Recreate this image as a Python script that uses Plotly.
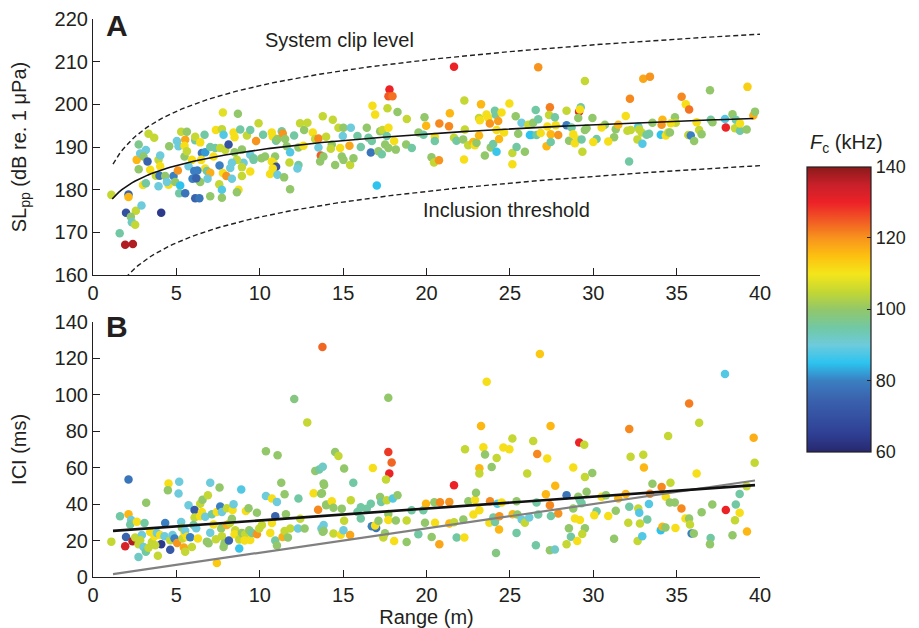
import numpy as np
import plotly.graph_objects as go

# ---------------- Panel A: source level vs range ----------------
a_range = [
    1.10, 1.60, 1.93, 2.39, 1.98, 2.13, 2.13, 2.57, 2.27, 2.33, 2.53, 2.91, 2.74, 2.62, 2.83, 3.17, 3.03, 2.74, 3.33, 3.67,
    3.00, 3.17, 3.43, 3.27, 3.93, 4.03, 4.03, 3.77, 3.99, 4.09, 3.93, 4.33, 4.57, 4.83, 4.53, 4.43, 4.93, 5.09, 5.03, 5.13,
    5.23, 5.17, 5.53, 5.29, 5.53, 5.63, 5.49, 5.49, 5.63, 5.93, 5.73, 6.07, 5.97, 6.13, 6.23, 6.13, 6.13, 6.43, 6.53, 6.73,
    6.49, 6.73, 6.83, 7.03, 6.87, 6.43, 6.69, 7.03, 7.33, 7.23, 7.37, 7.73, 7.57, 7.03, 7.73, 7.73, 7.83, 7.79, 7.63, 7.93,
    7.59, 7.79, 8.00, 8.13, 8.43, 8.49, 8.69, 8.83, 9.23, 9.43, 9.93, 9.78, 9.63, 9.43, 8.93, 8.73, 8.63, 9.03, 8.63, 8.33,
    8.23, 8.93, 8.33, 8.49, 8.93, 9.43, 9.63, 10.2, 10.1, 6.26, 6.19, 6.38,
    10.32, 10.72, 10.78, 10.98, 11.06, 11.32, 11.38, 10.92, 10.72, 10.86, 10.98, 10.78, 10.62, 11.06, 11.46, 11.82, 11.52, 11.62, 11.82, 11.78,
    12.06, 12.32, 12.32, 12.26, 12.42, 12.66, 12.86, 12.62, 13.18, 13.32, 13.52, 13.52, 13.66, 13.62, 13.82, 13.78, 13.98, 14.32, 14.38, 14.26,
    14.82, 14.98, 14.72, 15.02, 14.92, 15.02, 14.52, 15.38, 15.46, 15.42, 15.62, 15.86, 16.06, 16.42, 16.52, 16.72, 16.66, 16.76, 16.92, 17.12,
    17.32, 17.02, 17.22, 17.36, 17.62, 17.72, 17.66, 17.78, 17.72, 17.96, 17.52, 17.72, 18.06, 18.16, 18.26, 18.82, 18.78, 19.12, 19.52, 19.82,
    19.88, 19.98,
    21.65, 26.70, 29.50, 22.27, 23.27, 24.97, 21.40, 20.77, 21.35, 20.50, 20.50, 20.30, 20.45, 20.75, 21.65, 21.80, 22.25, 22.20, 22.30, 22.50,
    22.80, 22.90, 23.00, 23.15, 23.20, 23.15, 23.50, 23.60, 23.70, 23.80, 23.85, 24.10, 24.15, 24.00, 24.20, 24.30, 24.35, 24.20, 24.50, 24.65,
    25.15, 25.15, 25.40, 25.35, 25.50, 25.70, 25.90, 26.10, 26.30, 26.40, 26.55, 26.70, 26.20, 26.60, 26.85, 27.25, 27.20, 27.45, 27.45, 27.75,
    27.90, 27.40, 27.35, 27.70, 28.40, 28.40, 28.70, 28.55, 28.80, 28.90, 29.05, 29.15, 29.25, 29.20, 29.10, 29.30, 29.35, 29.50, 29.60, 29.95,
    30.70, 30.50, 31.35, 31.25, 31.50, 30.20, 30.00, 30.90, 31.95, 32.20, 32.05, 32.25, 32.15, 32.70, 32.75, 32.90, 32.65, 32.95, 33.20, 33.35,
    33.00, 33.40, 33.55, 34.05, 34.15, 34.10, 34.35, 34.50, 34.60, 34.90, 34.95, 34.65, 35.30, 35.55, 35.75, 35.70, 35.85, 36.05, 36.20, 36.35,
    36.50, 37.00, 37.05, 37.15, 37.90, 37.95, 38.35, 38.50, 38.55, 38.80, 38.80, 39.20, 39.25, 39.60, 39.70,
]
a_sl = [
    178.8, 169.8, 167.1, 167.3, 174.6, 178.9, 178.3, 175.1, 173.7, 172.4, 171.8, 176.3, 190.6, 187.0, 188.5, 189.3, 187.8, 184.8, 193.1, 192.2,
    181.1, 181.5, 184.7, 186.6, 187.0, 188.0, 185.5, 183.3, 183.3, 174.6, 180.8, 183.2, 190.2, 183.2, 181.2, 181.8, 181.8, 184.5, 191.4, 190.2,
    181.0, 179.2, 179.2, 193.6, 191.7, 193.6, 190.3, 187.8, 189.0, 187.0, 185.5, 184.4, 182.6, 178.0, 182.6, 191.6, 192.4, 191.1, 188.6, 188.8,
    187.0, 185.0, 184.4, 184.0, 182.6, 181.8, 192.9, 190.0, 189.8, 187.8, 194.0, 194.2, 181.3, 178.5, 180.0, 178.1, 192.9, 198.1, 189.8, 189.3,
    185.7, 183.9, 183.2, 190.6, 193.4, 192.3, 197.8, 194.1, 192.7, 194.0, 195.6, 191.4, 187.0, 184.3, 183.2, 180.0, 179.4, 186.3, 187.0, 186.3,
    185.1, 185.3, 182.6, 188.8, 189.4, 188.2, 187.4, 192.9, 187.4, 184.5, 182.7, 178.0,
    187.8, 193.4, 192.5, 191.5, 191.9, 193.7, 193.2, 187.8, 186.6, 186.0, 185.4, 185.0, 183.7, 183.5, 182.9, 180.1, 191.9, 190.2, 188.8, 186.4,
    192.7, 189.9, 185.8, 185.0, 195.6, 194.0, 195.7, 190.3, 193.4, 191.9, 192.0, 189.9, 188.0, 186.6, 187.8, 197.2, 192.4, 190.6, 196.4, 189.6,
    189.8, 192.6, 194.5, 194.5, 187.8, 187.0, 185.8, 190.3, 194.5, 185.8, 187.4, 192.6, 190.0, 194.5, 192.2, 191.4, 188.7, 199.7, 197.6, 189.0,
    188.3, 181.0, 193.7, 194.0, 192.6, 194.5, 199.1, 203.5, 201.9, 201.9, 190.6, 189.8, 191.4, 189.4, 198.2, 196.6, 190.6, 189.8, 193.4, 192.9,
    197.0, 195.0,
    208.8, 208.7, 205.5, 200.9, 200.0, 200.2, 197.9, 195.5, 194.9, 192.4, 191.4, 187.6, 186.4, 186.9, 192.2, 191.5, 187.1, 191.8, 194.1, 190.4,
    191.2, 190.4, 191.0, 196.8, 196.3, 192.7, 188.0, 197.6, 196.8, 195.5, 189.9, 198.5, 197.6, 190.7, 188.9, 196.1, 191.9, 194.0, 198.1, 193.4,
    188.6, 186.0, 190.0, 197.2, 193.1, 195.7, 188.9, 195.2, 192.8, 195.7, 198.7, 196.5, 192.8, 192.8, 193.3, 194.8, 190.2, 193.0, 191.2, 195.1,
    192.8, 199.3, 197.5, 197.0, 195.1, 198.5, 194.6, 191.5, 193.0, 190.9, 191.8, 198.3, 199.3, 198.8, 196.8, 191.8, 188.9, 194.0, 194.4, 196.8,
    195.2, 194.6, 194.2, 192.3, 195.2, 191.9, 191.2, 191.3, 197.3, 201.3, 193.8, 194.0, 186.6, 194.8, 194.2, 193.4, 191.8, 190.8, 192.9, 193.1,
    206.0, 206.5, 195.7, 192.9, 196.4, 195.2, 192.7, 193.4, 193.4, 197.0, 195.7, 195.6, 201.8, 200.0, 198.8, 192.8, 192.7, 191.4, 195.8, 194.0,
    193.0, 203.3, 196.4, 195.8, 196.6, 194.6, 197.7, 194.4, 196.4, 193.8, 195.5, 194.1, 204.1, 197.4, 198.3,
]
a_fc = [
    105, 95, 137, 137, 70, 75, 116, 105, 100, 92, 105, 90, 97, 116, 90, 90, 100, 100, 105, 105,
    111, 95, 111, 75, 105, 90, 111, 105, 78, 64, 90, 100, 100, 80, 111, 90, 100, 120, 90, 90,
    85, 95, 78, 105, 118, 100, 111, 100, 105, 111, 90, 80, 80, 75, 90, 95, 105, 111, 78, 82,
    111, 111, 95, 117, 90, 100, 95, 95, 95, 111, 111, 105, 105, 100, 88, 100, 88, 108, 105, 105,
    80, 111, 120, 70, 111, 111, 100, 95, 105, 95, 105, 120, 95, 111, 105, 111, 100, 90, 105, 90,
    90, 105, 90, 100, 100, 90, 95, 95, 100, 80, 75, 78,
    100, 111, 111, 95, 100, 95, 120, 100, 111, 111, 70, 111, 111, 90, 100, 100, 100, 100, 88, 105,
    95, 100, 95, 90, 105, 100, 105, 111, 111, 105, 121, 90, 125, 100, 100, 105, 105, 100, 105, 105,
    111, 90, 105, 100, 100, 100, 100, 118, 90, 105, 100, 95, 95, 100, 95, 95, 78, 111, 111, 100,
    95, 85, 100, 105, 95, 111, 105, 130, 125, 123, 100, 100, 111, 100, 100, 105, 100, 95, 100, 95,
    100, 116,
    130, 120, 105, 105, 116, 111, 116, 121, 121, 111, 95, 100, 105, 120, 105, 95, 111, 100, 105, 105,
    116, 111, 100, 105, 111, 116, 100, 111, 111, 120, 100, 95, 95, 95, 86, 119, 116, 111, 111, 111,
    105, 111, 95, 100, 100, 90, 100, 105, 95, 100, 95, 95, 85, 95, 111, 111, 116, 116, 95, 111,
    120, 122, 105, 95, 80, 105, 95, 100, 111, 111, 111, 130, 95, 111, 100, 95, 105, 100, 100, 100,
    100, 111, 100, 100, 116, 95, 111, 111, 111, 121, 105, 105, 95, 88, 105, 105, 105, 88, 95, 95,
    118, 120, 100, 85, 116, 120, 111, 105, 100, 100, 105, 111, 121, 111, 123, 105, 80, 100, 111, 105,
    100, 100, 95, 100, 88, 130, 100, 105, 95, 95, 111, 100, 113, 117, 100,
]

# ---------------- Panel B: inter-click interval vs range ----------------
b_range = [
    1.10, 1.93, 1.98, 2.37, 2.13, 2.13, 1.62, 2.29, 2.23, 2.63, 2.53, 2.73, 3.09, 3.19, 2.93, 2.83, 3.03, 3.17, 2.73, 3.33,
    3.43, 3.53, 3.69, 3.83, 3.89, 4.09, 4.03, 3.73, 4.33, 4.29, 4.53, 4.49, 4.63, 4.63, 4.77, 4.89, 5.05, 5.17, 5.13, 5.29,
    5.33, 5.37, 5.45, 5.53, 5.49, 5.53, 5.63, 5.73, 5.83, 5.93, 6.09, 6.09, 6.03, 6.19, 6.29, 6.43, 6.57, 6.43, 6.53, 6.73,
    6.83, 6.93, 6.89, 7.03, 7.13, 7.03, 7.23, 7.43, 7.37, 7.43, 7.59, 7.63, 7.73, 7.69, 7.73, 7.89, 7.83, 8.03, 8.03, 8.15,
    8.21, 8.33, 8.37, 8.43, 8.53, 8.49, 8.77, 8.77, 8.89, 8.93, 9.13, 9.17, 9.33, 9.09, 9.43, 9.37, 9.53, 9.83, 9.83, 9.97,
    10.13, 10.37, 10.37, 10.73, 10.73, 10.63, 10.93, 10.93, 11.03, 11.07, 11.03, 11.29, 11.37, 11.49, 11.57, 11.49, 11.69, 11.83, 12.32, 12.29,
    12.43, 12.69, 12.85, 13.23, 13.33, 13.57, 13.78, 13.50, 13.70, 13.83, 13.83, 13.83, 13.73, 14.00, 12.07, 13.76,
    17.71, 14.52, 14.72, 15.06, 17.71, 17.91, 17.77, 17.57, 16.78, 13.86, 15.61, 13.68, 13.98, 14.32, 14.42, 14.92, 15.46, 15.86, 16.06, 16.42,
    16.66, 15.06, 16.06, 13.78, 14.42, 14.86, 15.02, 15.42, 16.72, 16.98, 16.92, 17.12, 17.22, 17.28, 17.62, 17.98, 18.26, 17.71, 17.71, 18.16,
    17.51, 17.41, 18.06, 18.81, 19.11, 18.81, 19.51, 19.81, 19.91, 19.97, 20.31, 20.47, 20.51, 20.77, 20.81, 21.37, 21.37, 21.65, 21.65, 21.81,
    22.21, 22.27, 22.31, 22.51, 22.81, 22.91, 22.97, 23.17, 23.17, 23.17, 23.27, 23.41, 23.51, 23.61, 23.81, 23.77, 23.91, 24.01, 24.11, 24.17,
    24.21, 24.25, 24.35, 24.37, 24.51, 24.61, 24.97, 25.15, 25.17, 25.40, 25.45, 25.71, 25.90, 25.40, 26.04, 26.16, 26.40, 26.56, 26.64, 26.60,
    26.70, 26.80,
    27.44, 27.24, 27.72, 27.16, 27.40, 27.90, 27.46, 28.40, 29.16, 29.46, 28.80, 29.50, 29.94, 29.60, 29.10, 29.20, 29.30, 28.80, 28.90, 29.20,
    29.50, 28.54, 29.34, 28.66, 29.04, 28.40, 27.40, 27.70, 30.20, 30.06, 30.50, 30.76, 30.90, 31.35, 31.25, 31.50, 31.95, 32.16, 32.24, 32.16,
    32.10, 32.70, 32.76, 32.80, 32.66, 32.94, 33.00, 33.04, 33.24, 33.34, 33.40, 33.55, 34.10, 34.05, 34.15, 34.33, 34.49, 34.63, 34.35, 34.59,
    34.89, 34.93, 35.29, 35.75, 36.20, 35.53, 35.75, 35.80, 35.90, 36.03, 36.35, 36.50, 37.04, 37.00, 37.14, 37.90, 37.95, 38.35, 38.50, 38.55,
    38.78, 38.78, 39.22, 39.20, 39.62, 39.68,
]
b_ici = [
    19.4, 16.9, 22.0, 19.6, 53.5, 34.4, 33.3, 31.3, 28.8, 30.3, 21.6, 18.0, 29.6, 40.7, 23.0, 20.2, 16.5, 13.8, 11.0, 16.0,
    24.7, 19.2, 22.3, 24.2, 11.6, 18.0, 23.0, 17.4, 29.6, 22.3, 51.3, 47.6, 15.0, 20.2, 23.0, 21.1, 18.7, 52.2, 45.8, 30.1,
    27.0, 21.1, 16.2, 13.8, 24.3, 25.4, 22.1, 39.4, 21.8, 16.5, 36.7, 32.6, 28.5, 26.8, 21.1, 40.2, 42.4, 33.3, 35.7, 33.0,
    19.4, 18.5, 44.8, 51.7, 34.4, 24.3, 28.8, 35.7, 20.7, 7.7, 49.1, 38.6, 35.7, 26.6, 22.3, 18.5, 16.5, 28.5, 37.7, 20.0,
    29.6, 32.0, 36.7, 39.9, 25.7, 23.5, 20.6, 15.6, 48.0, 24.2, 23.5, 36.2, 37.7, 20.0, 20.3, 25.7, 24.2, 23.5, 35.3, 26.6,
    28.5, 44.4, 69.0, 43.0, 29.6, 24.2, 33.3, 20.0, 17.3, 66.8, 41.2, 51.7, 22.0, 45.4, 34.4, 25.2, 21.6, 26.6, 43.0, 26.6,
    32.0, 26.6, 84.8, 45.9, 58.2, 58.9, 60.4, 36.9, 26.6, 28.5, 25.2, 51.3, 45.9, 39.7, 97.6, 126.1,
    98.3, 68.6, 66.3, 59.5, 68.6, 62.8, 56.8, 53.5, 59.8, 50.4, 51.7, 45.7, 39.3, 41.5, 38.0, 37.5, 42.1, 35.6, 38.3, 37.5,
    40.2, 30.8, 32.1, 24.8, 23.9, 23.2, 25.7, 23.0, 27.8, 26.9, 28.3, 30.8, 43.9, 41.1, 42.1, 43.0, 44.8, 34.6, 31.3, 31.0,
    24.0, 21.6, 19.8, 31.0, 36.6, 19.2, 23.4, 36.6, 29.7, 40.2, 22.0, 41.0, 29.7, 17.9, 41.0, 41.2, 29.3, 30.0, 50.3, 21.6,
    31.5, 21.6, 70.1, 41.6, 34.3, 42.2, 46.2, 36.6, 59.6, 56.7, 82.8, 71.2, 67.2, 107.1, 41.6, 29.7, 60.3, 32.7, 30.2, 13.2,
    65.3, 40.2, 26.0, 33.3, 40.8, 71.0, 70.1, 76.0, 34.4, 41.6, 34.3, 31.5, 29.7, 24.2, 56.7, 32.7, 74.6, 17.4, 67.5, 40.8,
    34.3, 122.3,
    82.8, 65.0, 50.0, 45.4, 39.4, 34.8, 33.5, 44.9, 73.7, 72.5, 60.0, 54.9, 57.1, 46.7, 44.0, 42.2, 40.4, 37.6, 32.1, 31.2,
    26.7, 26.7, 23.6, 22.1, 19.7, 18.0, 14.7, 15.1, 36.1, 33.9, 44.0, 44.9, 33.5, 36.3, 21.0, 43.1, 45.5, 81.1, 65.9, 38.5,
    29.7, 37.6, 35.2, 29.3, 19.8, 22.4, 67.1, 60.0, 31.5, 40.0, 45.7, 51.2, 49.4, 25.6, 27.5, 27.1, 77.3, 51.7, 44.0, 40.9,
    40.9, 26.9, 37.6, 95.2, 56.7, 32.1, 32.1, 28.8, 23.8, 23.8, 84.6, 35.5, 21.4, 18.0, 39.8, 111.3, 36.8, 22.9, 31.1, 39.8,
    45.5, 35.3, 25.0, 49.8, 76.3, 62.6,
]
b_fc = [
    105, 133, 75, 137, 78, 116, 95, 90, 95, 111, 105, 105, 95, 100, 90, 105, 90, 95, 92, 105,
    111, 105, 111, 90, 105, 64, 111, 105, 80, 90, 111, 100, 72, 105, 90, 80, 120, 90, 90, 90,
    100, 105, 118, 105, 111, 90, 111, 90, 80, 105, 72, 105, 95, 90, 111, 105, 100, 111, 111, 90,
    100, 100, 105, 90, 95, 90, 111, 111, 105, 114, 100, 80, 90, 100, 105, 100, 100, 117, 105, 75,
    105, 100, 111, 90, 105, 111, 105, 86, 88, 100, 105, 111, 100, 111, 111, 100, 95, 120, 100, 105,
    105, 90, 100, 111, 111, 111, 75, 95, 100, 100, 90, 100, 117, 100, 100, 105, 100, 105, 95, 90,
    105, 100, 105, 111, 100, 95, 92, 121, 90, 90, 100, 100, 100, 100, 98, 124,
    100, 100, 105, 100, 128, 124, 130, 105, 111, 100, 95, 100, 100, 111, 100, 100, 105, 95, 95, 95,
    95, 105, 95, 100, 105, 111, 90, 118, 80, 78, 111, 100, 100, 95, 105, 88, 100, 100, 111, 100,
    100, 105, 111, 105, 95, 100, 95, 95, 100, 116, 100, 100, 111, 118, 121, 120, 116, 105, 130, 95,
    100, 111, 105, 100, 111, 111, 100, 111, 116, 105, 116, 111, 100, 111, 121, 111, 100, 95, 95, 98,
    105, 88, 116, 120, 111, 111, 111, 105, 116, 100, 100, 90, 105, 95, 105, 90, 105, 95, 121, 95,
    95, 114,
    116, 111, 116, 116, 121, 120, 95, 78, 130, 105, 111, 105, 100, 100, 100, 95, 95, 100, 111, 111,
    100, 100, 105, 95, 111, 105, 100, 92, 95, 111, 111, 100, 111, 100, 100, 116, 116, 121, 105, 95,
    105, 105, 88, 105, 105, 88, 105, 116, 95, 88, 121, 100, 121, 85, 116, 100, 105, 105, 111, 100,
    100, 111, 121, 122, 111, 111, 100, 105, 80, 100, 105, 100, 95, 100, 100, 88, 130, 100, 105, 95,
    95, 111, 116, 105, 117, 105,
]

# fitted / model lines (parameters)
sl_fit_a, sl_fit_b = 177.1, 12.27          # SL = a + b*log10(R)
clip_a = 184.4                             # clip = a + 20*log10(R)
thr_a = 153.6                              # threshold = a + 20*log10(R)
ici_fit_a, ici_fit_b = 24.5, 0.652         # ICI = a + b*R
sound_speed = 1500.0                       # two-way travel time (ms)

r_fit = np.linspace(1.15, 39.6, 200)
r_clip = np.linspace(1.2, 40, 200)
r_thr = np.linspace(1.95, 40, 200)
r_lin = np.array([1.2, 39.7])

FONT = "Arial, Liberation Sans, sans-serif"
TXT = "#231f20"

colorscale = [
    [0.0, "#27286e"], [0.0625, "#2f3f93"], [0.125, "#3551a2"], [0.1875, "#3a63ae"],
    [0.25, "#3a7fc1"], [0.3125, "#2dc3ef"], [0.375, "#6dcbdc"], [0.4375, "#72c8a3"],
    [0.5, "#92c76a"], [0.5625, "#c4d733"], [0.625, "#f4e61b"], [0.6875, "#fdc010"],
    [0.75, "#f7941d"], [0.8125, "#f15a24"], [0.875, "#ec2227"], [0.9375, "#c8202a"],
    [1.0, "#8b1a1a"],
]

fig = go.Figure()

fig.add_trace(go.Scatter(
    x=a_range, y=a_sl, mode="markers", xaxis="x", yaxis="y",
    marker=dict(size=8.5, color=a_fc, coloraxis="coloraxis", line=dict(width=0)),
    showlegend=False, hoverinfo="x+y"))
fig.add_trace(go.Scatter(
    x=r_clip, y=clip_a + 20 * np.log10(r_clip), mode="lines", xaxis="x", yaxis="y",
    line=dict(color="#231f20", width=1.4, dash="5px,3px"), showlegend=False))
fig.add_trace(go.Scatter(
    x=r_thr, y=thr_a + 20 * np.log10(r_thr), mode="lines", xaxis="x", yaxis="y",
    line=dict(color="#231f20", width=1.4, dash="5px,3px"), showlegend=False))
fig.add_trace(go.Scatter(
    x=r_fit, y=sl_fit_a + sl_fit_b * np.log10(r_fit), mode="lines", xaxis="x", yaxis="y",
    line=dict(color="#111111", width=1.6), showlegend=False))

fig.add_trace(go.Scatter(
    x=b_range, y=b_ici, mode="markers", xaxis="x2", yaxis="y2",
    marker=dict(size=8.5, color=b_fc, coloraxis="coloraxis", line=dict(width=0)),
    showlegend=False, hoverinfo="x+y"))
fig.add_trace(go.Scatter(
    x=r_lin, y=2 * r_lin / sound_speed * 1000, mode="lines", xaxis="x2", yaxis="y2",
    line=dict(color="#808080", width=2.2), showlegend=False))
fig.add_trace(go.Scatter(
    x=r_lin, y=ici_fit_a + ici_fit_b * r_lin, mode="lines", xaxis="x2", yaxis="y2",
    line=dict(color="#111111", width=2.6), showlegend=False))

axis_common = dict(
    showgrid=False, zeroline=False, showline=True, linecolor=TXT, linewidth=1.2,
    ticks="inside", ticklen=7, tickcolor=TXT, tickwidth=1.2, automargin=False,
    tickfont=dict(family=FONT, size=20, color=TXT), mirror=False,
)

# the page body adds an 8 px offset, so margins are reduced by 8 px on left/top
fig.update_layout(
    width=911, height=620,
    margin=dict(l=85, r=159, t=11, b=51, autoexpand=False),
    paper_bgcolor="white", plot_bgcolor="white",
    font=dict(family=FONT, size=20, color=TXT),
    xaxis=dict(domain=[0, 1], anchor="y", range=[0, 40], dtick=5, **axis_common),
    yaxis=dict(domain=[0.541, 1], anchor="x", range=[160, 220], dtick=10,
               title=dict(text="SL<sub>pp</sub> (dB re. 1 μPa)", standoff=22,
                          font=dict(family=FONT, size=20, color=TXT)),
               **axis_common),
    xaxis2=dict(domain=[0, 1], anchor="y2", range=[0, 40], dtick=5,
                title=dict(text="Range (m)", standoff=7,
                           font=dict(family=FONT, size=20, color=TXT)),
                **axis_common),
    yaxis2=dict(domain=[0, 0.4575], anchor="x2", range=[0, 140], dtick=20,
                title=dict(text="ICI (ms)", standoff=22,
                           font=dict(family=FONT, size=20, color=TXT)),
                **axis_common),
    coloraxis=dict(
        cmin=60, cmax=140, colorscale=colorscale,
        colorbar=dict(
            x=1.071, xanchor="left", xpad=0,
            y=0.48, yanchor="middle", ypad=0,
            len=0.511, lenmode="fraction", thickness=64,
            outlinewidth=1.2, outlinecolor=TXT,
            tickvals=[60, 80, 100, 120, 140], ticks="inside", ticklen=4,
            tickcolor=TXT, tickfont=dict(family=FONT, size=18, color=TXT),
        ),
    ),
    annotations=[
        dict(text="<b>A</b>", x=0.036, y=0.988, xref="paper", yref="paper",
             showarrow=False, font=dict(family=FONT, size=30, color=TXT),
             xanchor="center", yanchor="middle"),
        dict(text="<b>B</b>", x=0.036, y=0.449, xref="paper", yref="paper",
             showarrow=False, font=dict(family=FONT, size=30, color=TXT),
             xanchor="center", yanchor="middle"),
        dict(text="System clip level", x=14.8, y=215.1, xref="x", yref="y",
             showarrow=False, font=dict(family=FONT, size=20, color=TXT),
             xanchor="center", yanchor="middle"),
        dict(text="Inclusion threshold", x=24.8, y=175.2, xref="x", yref="y",
             showarrow=False, font=dict(family=FONT, size=20, color=TXT),
             xanchor="center", yanchor="middle"),
        dict(text="<i>F</i><sub>c</sub> (kHz)", x=(846 - 93) / 667, y=(577 - 143) / 558,
             xref="paper", yref="paper",
             showarrow=False, font=dict(family=FONT, size=20, color=TXT),
             xanchor="center", yanchor="middle"),
    ],
)

fig.write_html("out.html")
